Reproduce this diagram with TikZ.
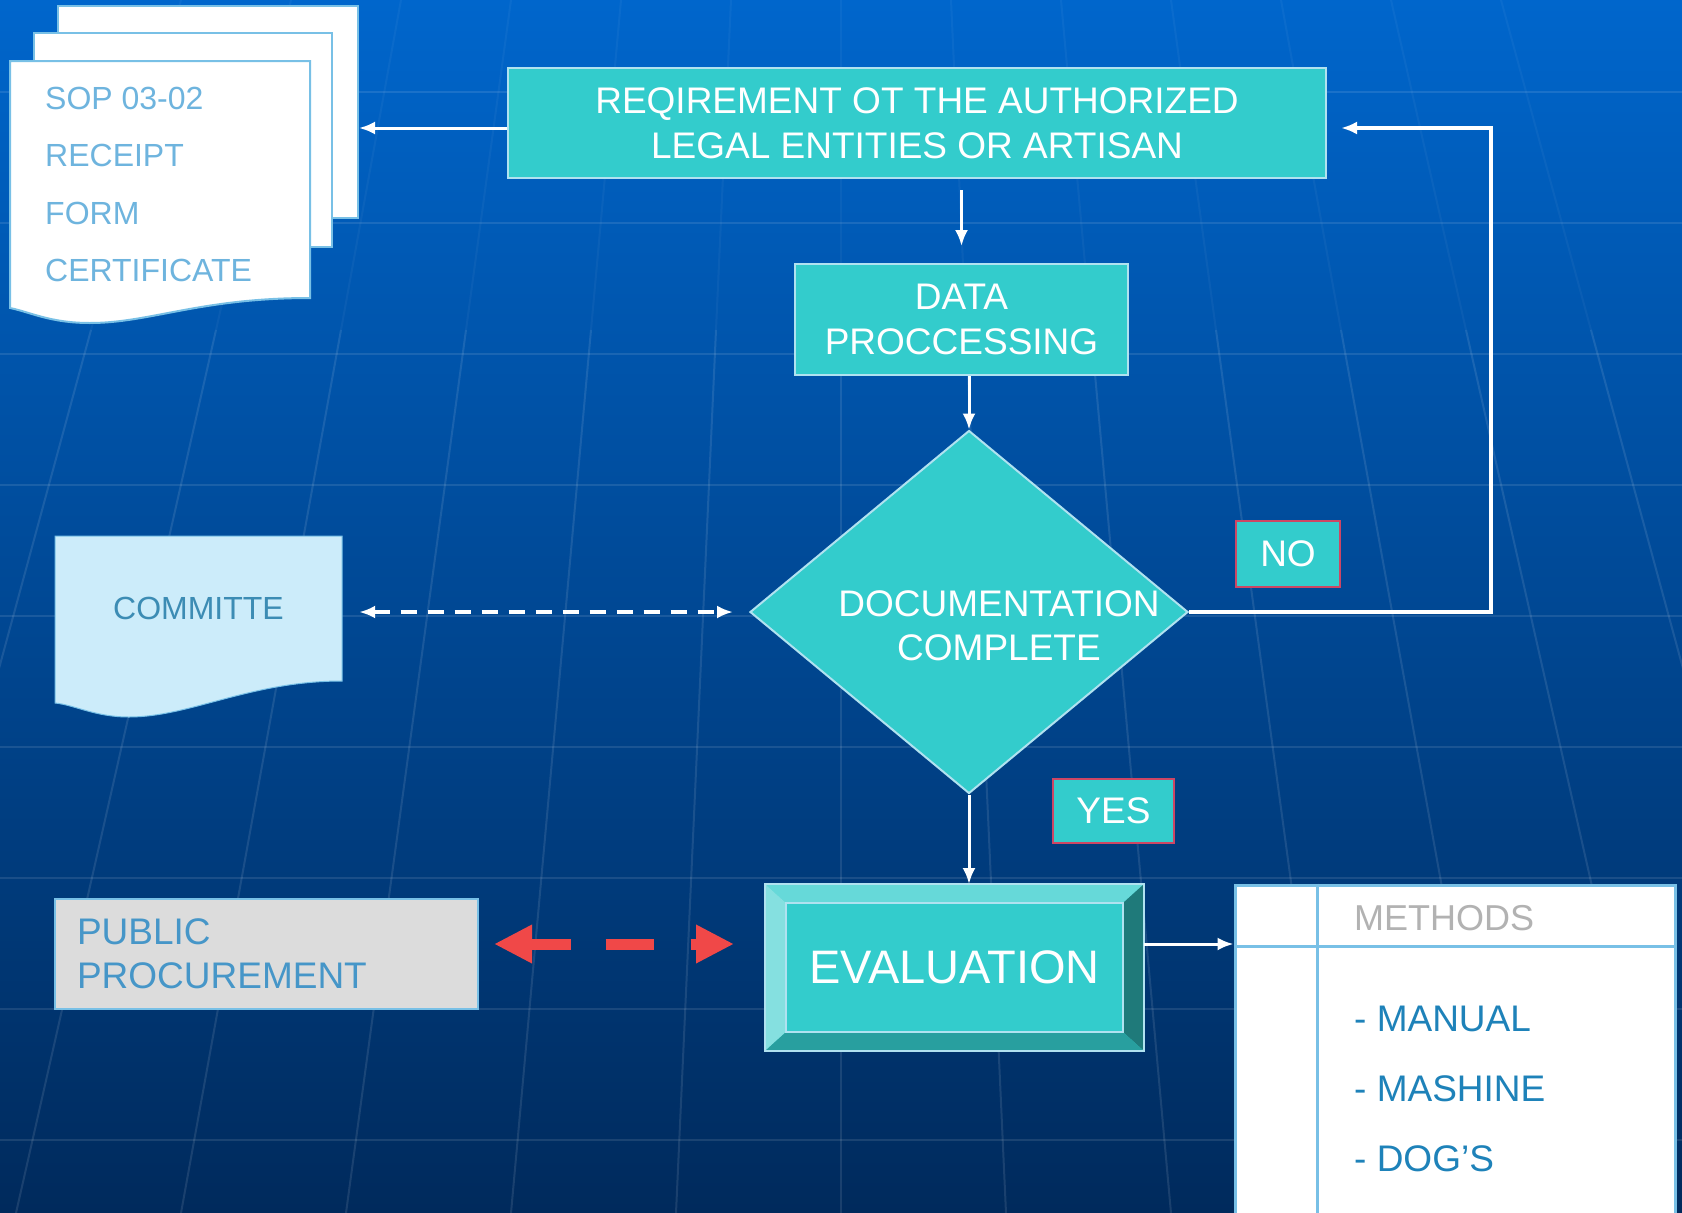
\documentclass[tikz,border=0pt]{standalone}
\usepackage{fontspec}
\setmainfont{Liberation Sans}
\usetikzlibrary{shapes.geometric}
\usetikzlibrary{arrows.meta}
\tikzset{>={Latex[length=16pt,width=13pt]}}
\definecolor{bgtop}{RGB}{0,102,204}
\definecolor{bgmid}{RGB}{0,74,160}
\definecolor{bgbot}{RGB}{0,42,92}
\definecolor{tealfill}{RGB}{51,204,204}
\definecolor{edgeblue}{RGB}{176,226,240}
\definecolor{tagred}{RGB}{205,70,100}
\definecolor{lineblue}{RGB}{120,192,230}
\definecolor{palefill}{RGB}{204,236,250}
\definecolor{pubgrey}{RGB}{220,220,220}
\definecolor{pagetext}{RGB}{110,180,222}
\definecolor{comtext}{RGB}{60,140,180}
\definecolor{pubtext}{RGB}{70,150,200}
\definecolor{methtext}{RGB}{30,130,185}
\definecolor{redarrow}{RGB}{240,72,72}
\tikzset{
    box/.style={draw=edgeblue, line width=2pt, fill=tealfill, text=white, align=center, inner sep=0pt, font=\fontsize{37}{45}\selectfont},
    tagbox/.style={box, draw=tagred},
    wire/.style={->, white, line width=3pt},
    page/.style={fill=white, draw=lineblue, line width=2pt},
    grid line/.style={white, opacity=.1, line width=2pt},
}

\begin{document}
\begin{tikzpicture}[x=1pt, y=-1pt]
    \useasboundingbox (0,0) rectangle (1682,1213);
    \shade[top color=bgtop, middle color=bgmid, bottom color=bgbot] (0,0) rectangle (1682,1213);
    \foreach \y in {92,223,...,1200} \draw[grid line] (0,\y) -- (1682,\y);
    \foreach \k in {-6,...,6} {
        \draw[grid line, opacity=.04] ({841+110*(\k)},0) -- ({841+125*(\k)},330);
        \draw[grid line] ({841+125*(\k)},330) -- ({841+165*(\k)},1213);
    }

    \node[page, minimum width=300pt, minimum height=212pt] (pg3) at (208,112) {};
    \node[page, minimum width=298pt, minimum height=214pt] (pg2) at (183,140) {};
    \draw[page] (10,61) -- (310,61) -- (310,298) .. controls (200,298) and (150,323) .. (90,323) .. controls (50,323) and (30,312) .. (10,308) -- cycle;
    \foreach \t [count=\i from 0] in {SOP 03-02, RECEIPT, FORM, CERTIFICATE}
        \node[text=pagetext, font=\fontsize{32}{40}\selectfont, anchor=base west, inner sep=0pt] (f\i) at (45,{109+57.5*\i}) {\t};

    \node[box, minimum width=818pt, minimum height=110pt] (req) at (917,123) {REQIREMENT OT THE AUTHORIZED\\LEGAL ENTITIES OR ARTISAN};
    \node[box, minimum width=333pt, minimum height=111pt] (data) at (961.5,319.5) {DATA\\PROCCESSING};
    \node[diamond, draw=edgeblue, line width=2pt, fill=tealfill, inner sep=0pt, minimum width=438pt, minimum height=363pt] (doc) at (969,612) {};
    \node[text=white, align=center, font=\fontsize{37}{44}\selectfont] (doctext) at (999,626) {DOCUMENTATION\\COMPLETE};
    \node[tagbox, minimum width=104pt, minimum height=66pt] (no) at (1288,554) {NO};
    \node[tagbox, minimum width=121pt, minimum height=64pt] (yes) at (1113.5,811) {YES};

    \node[box, minimum width=377pt, minimum height=165pt, font=\fontsize{47}{56}\selectfont] (eval) at (954.5,967.5) {EVALUATION};
    \fill[tealfill!75!white] (eval.north west) -- (eval.north east) -- ([shift={(-21,19)}]eval.north east) -- ([shift={(21,19)}]eval.north west) -- cycle;
    \fill[tealfill!60!white] (eval.north west) -- ([shift={(21,19)}]eval.north west) -- ([shift={(21,-19)}]eval.south west) -- (eval.south west) -- cycle;
    \fill[tealfill!60!black] (eval.north east) -- ([shift={(-21,19)}]eval.north east) -- ([shift={(-21,-19)}]eval.south east) -- (eval.south east) -- cycle;
    \fill[tealfill!78!black] (eval.south west) -- ([shift={(21,-19)}]eval.south west) -- ([shift={(-21,-19)}]eval.south east) -- (eval.south east) -- cycle;
    \draw[edgeblue, line width=1.5pt] ([shift={(21,19)}]eval.north west) rectangle ([shift={(-21,-19)}]eval.south east);
    \draw[edgeblue, line width=2pt] (eval.north west) rectangle (eval.south east);

    \fill[palefill, draw=lineblue, line width=1pt] (55,536) -- (342,536) -- (342,681) .. controls (250,681) and (190,717) .. (129,717) .. controls (95,717) and (75,705) .. (55,703) -- cycle;
    \node[text=comtext, font=\fontsize{32}{40}\selectfont, minimum width=287pt, minimum height=145pt] (com) at (198.5,608.5) {COMMITTE};
    \node[draw=lineblue, line width=2pt, fill=pubgrey, text=pubtext, align=left, text width=379pt, inner xsep=22pt, minimum height=110pt, font=\fontsize{37}{44}\selectfont] (pub) at (266.5,954) {PUBLIC\\PROCUREMENT};

    \node[fill=white, draw=lineblue, line width=3pt, minimum width=440pt, minimum height=340pt] (meth) at (1455,1055) {};
    \draw[lineblue, line width=3pt] ([yshift=-63pt]meth.north west) -- ([yshift=-63pt]meth.north east);
    \draw[lineblue, line width=3pt] ([xshift=84pt]meth.north west) -- ([xshift=84pt]meth.south west);
    \node[text=black!30, font=\fontsize{36}{44}\selectfont, anchor=base west, inner sep=0pt] (mhead) at (1354,930) {METHODS};
    \foreach \m [count=\i] in {- MANUAL, - MASHINE, - DOG'S}
        \node[text=methtext, font=\fontsize{37}{44}\selectfont, anchor=base west, inner sep=0pt] (m\i) at (1354,{961+70*\i}) {\m};

    \draw[wire] ([yshift=-5pt]req.west) -- ([yshift=-5pt]req.west -| pg3.east);
    \draw[wire, shorten <=11pt, shorten >=17pt] (req.south -| data.north) -- (data.north);
    \draw[wire] (doc.north |- data.south) -- (doc.north);
    \draw[wire] (doc.south) -- (doc.south |- eval.north);
    \draw[wire, line width=4pt, shorten >=14pt] (doc.east) -- ++(302,0) |- ([yshift=-5pt]req.east);
    \draw[wire] ([yshift=23.5pt]eval.east) -- ([yshift=23.5pt]eval.east -| meth.west);
    \draw[<->, white, line width=4pt, dash pattern=on 16pt off 11pt, shorten <=17pt, shorten >=16pt] (com.east |- doc.west) -- (doc.west);
    \draw[{Triangle[length=38pt,width=36pt]}-{Triangle[length=38pt,width=36pt]}, redarrow, line width=11pt, dash pattern=on 41pt off 35pt on 48pt off 37pt, shorten <=15pt, shorten >=31pt] ([yshift=10pt]pub.east) -- ([yshift=10pt]pub.east -| eval.west);
\end{tikzpicture}
\end{document}
